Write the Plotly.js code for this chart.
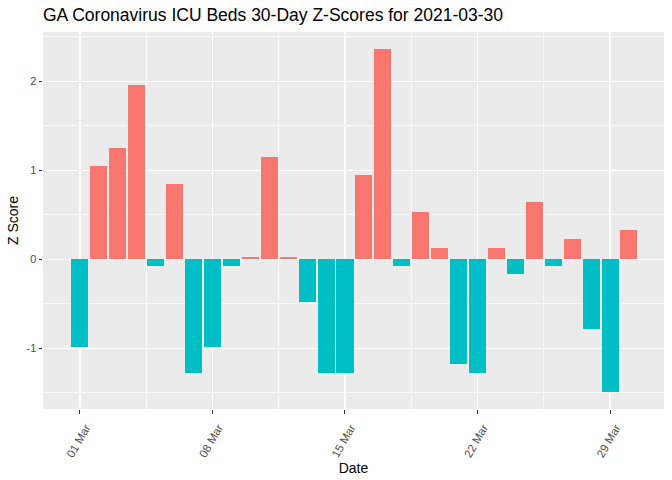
<!DOCTYPE html>
<html>
<head>
<meta charset="utf-8">
<script src="https://cdn.plot.ly/plotly-3.0.1.min.js"></script>
<style>html,body{margin:0;padding:0;background:#fff;}#chart{width:672px;height:480px;}</style>
</head>
<body>
<div id="chart"></div>
<script>
const dates = ["2021-03-01","2021-03-02","2021-03-03","2021-03-04","2021-03-05","2021-03-06","2021-03-07","2021-03-08","2021-03-09","2021-03-10",
  "2021-03-11","2021-03-12","2021-03-13","2021-03-14","2021-03-15","2021-03-16","2021-03-17","2021-03-18","2021-03-19","2021-03-20",
  "2021-03-21","2021-03-22","2021-03-23","2021-03-24","2021-03-25","2021-03-26","2021-03-27","2021-03-28","2021-03-29","2021-03-30"];
const zScores = [-0.98, 1.05, 1.25, 1.96, -0.07, 0.85, -1.28, -0.98, -0.07, 0.025,
  1.15, 0.025, -0.48, -1.28, -1.28, 0.95, 2.36, -0.07, 0.53, 0.13,
  -1.18, -1.28, 0.13, -0.17, 0.64, -0.07, 0.23, -0.78, -1.49, 0.33];
const tickDates = ["2021-03-01","2021-03-08","2021-03-15","2021-03-22","2021-03-29"];
const tickLabels = ["01 Mar","08 Mar","15 Mar","22 Mar","29 Mar"];

const DAY = 86400000;
const colors = zScores.map(v => v >= 0 ? "#F8766D" : "#00BFC4");

const trace = {
  type: "bar",
  x: dates,
  y: zScores,
  width: dates.map(() => 0.9 * DAY),
  marker: {color: colors, line: {width: 0}},
  hoverinfo: "x+y"
};

const layout = {
  width: 672, height: 480,
  margin: {l: 43, r: 8, t: 32, b: 71},
  paper_bgcolor: "#FFFFFF",
  plot_bgcolor: "#EBEBEB",
  font: {family: "Liberation Sans, Arial, sans-serif", color: "#000000"},
  showlegend: false,
  bargap: 0,
  title: {text: "GA Coronavirus ICU Beds 30-Day Z-Scores for 2021-03-30", x: 0, xref: "paper", xanchor: "left", y: 0.968, yref: "container", yanchor: "middle",
    font: {size: 17.5, color: "#000000"}},
  xaxis: {
    type: "date",
    range: ["2021-02-27 01:12", "2021-03-31 20:24"],
    tickmode: "array",
    tickvals: tickDates,
    ticktext: tickLabels,
    tickangle: -60,
    tickfont: {size: 11.5, color: "#4D4D4D"},
    ticklabelshift: 6,
    ticklabelstandoff: 3,
    ticks: "outside", ticklen: 3.5, tickcolor: "#333333", tickwidth: 1,
    showgrid: true, gridcolor: "#FFFFFF", gridwidth: 1.3,
    minor: {tickmode: "array", tickvals: ["2021-03-04 12:00","2021-03-11 12:00","2021-03-18 12:00","2021-03-25 12:00"], showgrid: true, gridcolor: "#FFFFFF", gridwidth: 0.7, ticks: ""},
    zeroline: false, showline: false,
    title: {text: "Date", font: {size: 14, color: "#000000"}, standoff: 4}
  },
  yaxis: {
    range: [-1.682, 2.554],
    tickmode: "array",
    tickvals: [-1, 0, 1, 2],
    ticktext: ["-1", "0", "1", "2"],
    tickfont: {size: 11, color: "#4D4D4D"},
    ticks: "outside", ticklen: 3.5, tickcolor: "#333333", tickwidth: 1,
    showgrid: true, gridcolor: "#FFFFFF", gridwidth: 1.3,
    minor: {tickmode: "array", tickvals: [-1.5, -0.5, 0.5, 1.5, 2.5], showgrid: true, gridcolor: "#FFFFFF", gridwidth: 0.7, ticks: ""},
    zeroline: false, showline: false,
    title: {text: "Z Score", font: {size: 14, color: "#000000"}, standoff: 4}
  }
};

Plotly.newPlot("chart", [trace], layout, {displayModeBar: false, staticPlot: true});
</script>
</body>
</html>
